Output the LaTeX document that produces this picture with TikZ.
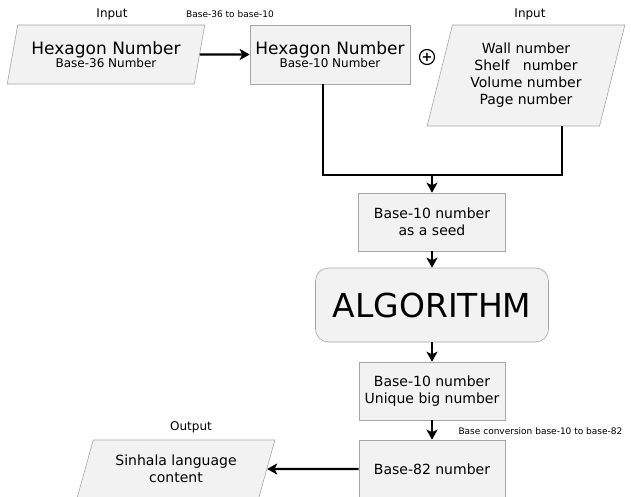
\documentclass[tikz,border=0pt]{standalone}
\usepackage{fontspec}
\setmainfont{DejaVu Sans}
\usetikzlibrary{arrows.meta, positioning, shapes.geometric, calc}
\definecolor{boxfill}{HTML}{F2F2F2}
\definecolor{boxline}{HTML}{A6A6A6}

\tikzset{
  io/.style={trapezium, trapezium stretches=true, draw=boxline, fill=boxfill,
    line width=0.6pt, inner sep=0pt, align=center},
  proc/.style={rectangle, draw=boxline, fill=boxfill, line width=0.6pt,
    inner sep=0pt, align=center},
  link/.style={line width=2.2pt, black},
  flow/.style={link, -{Stealth[length=10pt,width=11pt,inset=2.5pt]}},
  note/.style={font=\fontsize{12}{14}\selectfont},
  tag/.style={font=\fontsize{9}{11}\selectfont},
}

\begin{document}
\begin{tikzpicture}[x=1pt, y=-1pt]
    \useasboundingbox (0,0) rectangle (631,497);

    % input boxes
    \node[io, minimum width=198pt, minimum height=59pt,
      trapezium left angle=71, trapezium right angle=109] (hexin) at (106,54.5)
      {{\fontsize{17}{18}\selectfont Hexagon Number}\\[-1pt]
       {\fontsize{12}{14}\selectfont Base-36 Number}};
    \node[proc, minimum width=160pt, minimum height=59pt] (hexten) at (330,54.5)
      {{\fontsize{17}{18}\selectfont Hexagon Number}\\[-1pt]
       {\fontsize{12}{14}\selectfont Base-10 Number}};
    \node[circle, draw, line width=1.2pt, minimum size=15pt, inner sep=0pt,
      font=\fontsize{13}{13}\selectfont\bfseries] (plus) at (427,57) {+};
    \node[io, minimum width=198pt, minimum height=101pt, font=\fontsize{14}{17}\selectfont,
      trapezium left angle=73.5, trapezium right angle=106.5] (extra) at (526,75.5)
      {Wall number\\Shelf \ \ number\\Volume number\\Page number};

    % main column
    \node[proc, minimum width=147pt, minimum height=58pt, font=\fontsize{14}{17}\selectfont]
      (seed) at (432,222) {Base-10 number\\as a seed};
    \node[proc, rounded corners=13pt, minimum width=233pt, minimum height=74pt,
      font=\fontsize{33}{36}\selectfont] (algo) at (432,305) {ALGORITHM};
    \node[proc, minimum width=146pt, minimum height=58pt, font=\fontsize{14}{17}\selectfont]
      (big) at (432,391) {Base-10 number\\Unique big number};
    \node[proc, minimum width=146pt, minimum height=58pt, font=\fontsize{14}{17}\selectfont]
      (b82) at (432,469) {Base-82 number};
    \node[io, minimum width=198pt, minimum height=58pt, font=\fontsize{14}{17}\selectfont,
      trapezium left angle=67, trapezium right angle=113] (out) at (176,469)
      {Sinhala language\\content};

    % labels
    \node[note] (inlbl) at (112,14) {Input};
    \node[note] (extralbl) at (530,14) {Input};
    \node[note] (outlbl) at (191,427) {Output};
    \node[tag] (convlbl) at (230,14) {Base-36 to base-10};
    \node[tag, anchor=west] (b82lbl) at (455,431) {Base conversion base-10 to base-82};

    % connectors
    \coordinate (join) at (432,175);
    \draw[flow] (hexin.east) -- (hexten.west);
    \draw[link] ([xshift=-7pt]hexten.south) |- (join);
    \draw[link] ([xshift=36pt]extra.south) |- (join);
    \draw[flow] (join) -- (seed.north);
    \draw[flow] (seed.south) -- (algo.north);
    \draw[flow] (algo.south) -- (big.north);
    \draw[flow] (big.south) -- (b82.north);
    \draw[flow] (b82.west) -- (out.east);
\end{tikzpicture}
\end{document}
